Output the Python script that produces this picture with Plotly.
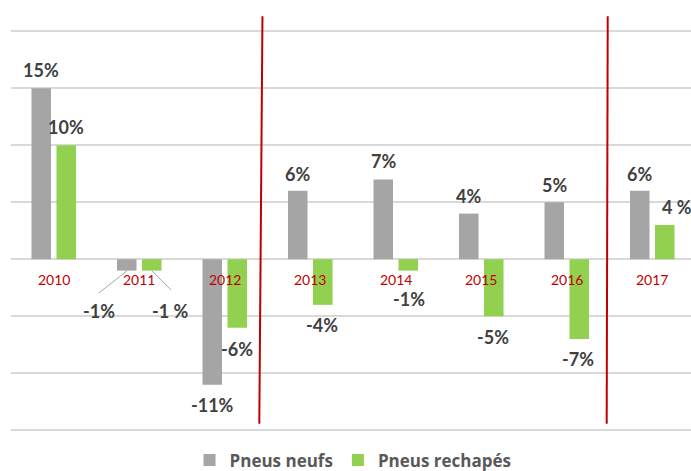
import plotly.graph_objects as go

# ---- data ----
years = ["2010", "2011", "2012", "2013", "2014", "2015", "2016", "2017"]
pneus_neufs = [15, -1, -11, 6, 7, 4, 5, 6]
pneus_rechapes = [10, -1, -6, -4, -1, -5, -7, 3]
labels_neufs = ["15%", "-1%", "-11%", "6%", "7%", "4%", "5%", "6%"]
labels_rechapes = ["10%", "-1 %", "-6%", "-4%", "-1%", "-5%", "-7%", "4 %"]
series_names = ["Pneus neufs", "Pneus rechapés"]

# ---- label placement (pixel offsets from bar ends) ----
neufs_dx = [-12.75, -40, -12.75, -12.75, -12.25, -12.75, -12.75, -12.75]
neufs_dy = [18, -40, -20, 17, 18, 18, 17, 17]
rech_dx = [12.25, 30.75, 11.75, 11.75, 13.25, 11.75, 11.25, 24.75]
rech_dy = [18, -40, -21, -20, -28, -20.6, -20, 17.7]

GRAY = "#a5a5a5"
GREEN = "#92d050"
LABEL_COLOR = "#404040"
RED = "#c00000"
FONT = "Lato"

fig = go.Figure()
fig.add_trace(go.Bar(x=years, y=pneus_neufs, name=series_names[0],
                     marker=dict(color=GRAY, line=dict(width=0))))
fig.add_trace(go.Bar(x=years, y=pneus_rechapes, name=series_names[1],
                     marker=dict(color=GREEN, line=dict(width=0))))

for i, yr in enumerate(years):
    fig.add_annotation(x=i, y=pneus_neufs[i], xref="x", yref="y",
                       text="<b>" + labels_neufs[i] + "</b>",
                       showarrow=False, xanchor="center", yanchor="middle",
                       xshift=neufs_dx[i], yshift=neufs_dy[i],
                       font=dict(family=FONT, size=18, color=LABEL_COLOR))
    fig.add_annotation(x=i, y=pneus_rechapes[i], xref="x", yref="y",
                       text="<b>" + labels_rechapes[i] + "</b>",
                       showarrow=False, xanchor="center", yanchor="middle",
                       xshift=rech_dx[i], yshift=rech_dy[i],
                       font=dict(family=FONT, size=18, color=LABEL_COLOR))
    fig.add_annotation(x=i, y=0, xref="x", yref="y", text=yr, showarrow=False,
                       xanchor="center", yanchor="middle", yshift=-20.7,
                       font=dict(family=FONT, size=14, color=RED))

# leader lines for the 2011 labels (data units)
fig.add_shape(type="line", xref="x", yref="y", x0=0.857, y0=pneus_neufs[1] - 0.02,
              x1=0.529, y1=-2.95, line=dict(color="#a6a6a6", width=1))
fig.add_shape(type="line", xref="x", yref="y", x0=1.149, y0=pneus_rechapes[1] - 0.02,
              x1=1.371, y1=-2.69, line=dict(color="#a6a6a6", width=1))
# red separators
fig.add_shape(type="line", xref="x", yref="y", x0=2.441, x1=2.404, y0=21.3, y1=-14.42,
              line=dict(color=RED, width=2))
fig.add_shape(type="line", xref="x", yref="y", x0=6.479, x1=6.467, y0=21.3, y1=-14.42,
              line=dict(color=RED, width=2))

fig.update_layout(
    width=691, height=471,
    margin=dict(l=11, r=0, t=13.8, b=34.7, autoexpand=False),
    paper_bgcolor="white", plot_bgcolor="white",
    barmode="group", bargap=0.415, bargroupgap=0.22,
    showlegend=True,
    legend=dict(orientation="h", x=0.503, xanchor="center", y=-0.058, yanchor="middle",
                font=dict(family="Open Sans", size=17, color="#595959", weight="bold"),
                itemwidth=30, bgcolor="rgba(0,0,0,0)"),
    xaxis=dict(range=[-0.5, 7.453], showticklabels=False, showgrid=False,
               zeroline=False, showline=False, ticks=""),
    yaxis=dict(range=[-15.5, 21.5], tick0=0, dtick=5, showticklabels=False,
               showgrid=True, gridcolor="#d9d9d9", gridwidth=1.5,
               zeroline=True, zerolinecolor="#d9d9d9", zerolinewidth=1.5,
               showline=False, ticks=""),
)

fig.write_html("out.html", config={"displayModeBar": False},
               post_script="document.body.style.margin='0';")
